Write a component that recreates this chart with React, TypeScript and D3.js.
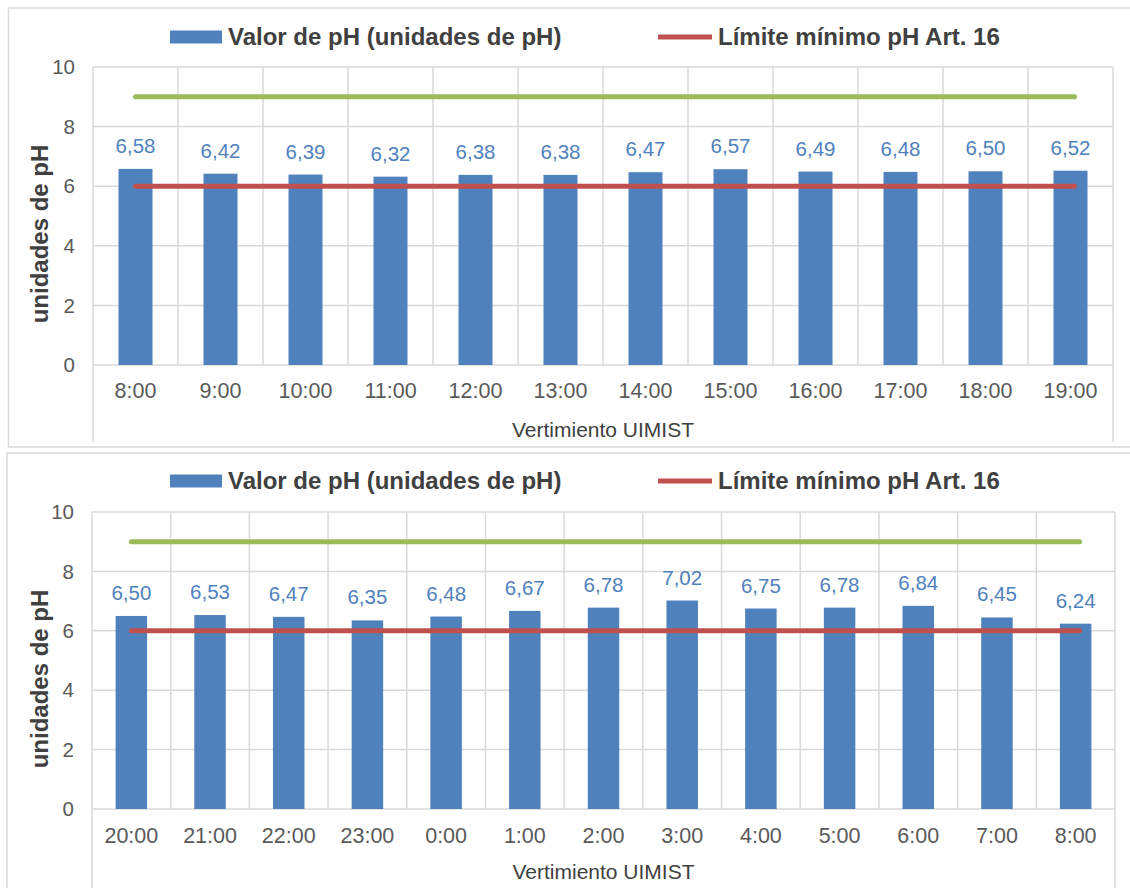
import React, { useEffect, useRef } from 'react';
import * as d3 from 'd3';

// Chart 1 (day shift)
const hours1 = ['8:00', '9:00', '10:00', '11:00', '12:00', '13:00', '14:00', '15:00', '16:00', '17:00', '18:00', '19:00'];
const ph1 = [6.58, 6.42, 6.39, 6.32, 6.38, 6.38, 6.47, 6.57, 6.49, 6.48, 6.5, 6.52];

// Chart 2 (night shift)
const hours2 = ['20:00', '21:00', '22:00', '23:00', '0:00', '1:00', '2:00', '3:00', '4:00', '5:00', '6:00', '7:00', '8:00'];
const ph2 = [6.5, 6.53, 6.47, 6.35, 6.48, 6.67, 6.78, 7.02, 6.75, 6.78, 6.84, 6.45, 6.24];

const yTicks = [0, 2, 4, 6, 8, 10];
const minLimit = 6;
const maxLimit = 9;

const seriesName = 'Valor de pH (unidades de pH)';
const limitName = 'Límite mínimo pH Art. 16';
const yTitle = 'unidades de pH';
const xTitle = 'Vertimiento UIMIST';

const BLUE = '#4f81bd';
const RED = '#c0504d';
const GREEN = '#9bbb59';
const GRID = '#d9d9d9';
const FONT = '"Liberation Sans", Arial, sans-serif';

interface Layout {
  boxTop: number;
  boxBottom: number;
  boxLeft: number;
  left: number;
  right: number;
  top: number;
  zero: number;
  sideBottom: number;
  legendY: number;
  tickY: number;
  titleY: number;
}

const drawChart = (
  g: d3.Selection<SVGGElement, unknown, null, undefined>,
  cats: string[],
  vals: number[],
  L: Layout
) => {
  const fmt = (v: number) => d3.format('.2f')(v).replace('.', ',');

  // outer box
  g.append('rect')
    .attr('x', L.boxLeft)
    .attr('y', L.boxTop)
    .attr('width', 1140 - L.boxLeft)
    .attr('height', L.boxBottom - L.boxTop)
    .attr('fill', '#fff')
    .attr('stroke', GRID)
    .attr('stroke-width', 1.5);

  const x = d3.scaleBand().domain(cats).range([L.left, L.right]).paddingInner(0).paddingOuter(0);
  const y = d3.scaleLinear().domain([0, 10]).range([L.zero, L.top]);

  // horizontal grid
  g.selectAll('.hg')
    .data(yTicks)
    .enter()
    .append('line')
    .attr('x1', L.left)
    .attr('x2', L.right)
    .attr('y1', d => y(d))
    .attr('y2', d => y(d))
    .attr('stroke', GRID)
    .attr('stroke-width', 1.5);

  // vertical grid at category boundaries
  const bounds = d3.range(cats.length + 1).map(i => L.left + i * x.step());
  g.selectAll('.vg')
    .data(bounds)
    .enter()
    .append('line')
    .attr('x1', d => d)
    .attr('x2', d => d)
    .attr('y1', L.top)
    .attr('y2', (d, i) => (i === 0 || i === cats.length ? L.sideBottom : L.zero))
    .attr('stroke', GRID)
    .attr('stroke-width', 1.5);

  // y tick labels
  g.selectAll('.yt')
    .data(yTicks)
    .enter()
    .append('text')
    .attr('x', L.left - 18)
    .attr('y', d => y(d))
    .attr('dy', '0.35em')
    .attr('text-anchor', 'end')
    .attr('fill', '#595959')
    .style('font-size', '20.5px')
    .text(d => d);

  // bars
  const bw = x.bandwidth() * 0.4;
  g.selectAll('.bar')
    .data(vals)
    .enter()
    .append('rect')
    .attr('x', (d, i) => (x(cats[i]) || 0) + x.bandwidth() / 2 - bw / 2)
    .attr('y', d => y(d))
    .attr('width', bw)
    .attr('height', d => L.zero - y(d))
    .attr('fill', BLUE);

  // data labels
  g.selectAll('.lbl')
    .data(vals)
    .enter()
    .append('text')
    .attr('x', (d, i) => (x(cats[i]) || 0) + x.bandwidth() / 2)
    .attr('y', d => y(d) - 16)
    .attr('text-anchor', 'middle')
    .attr('fill', BLUE)
    .style('font-size', '20.5px')
    .text(d => fmt(d));

  // limit lines
  const cx0 = (x(cats[0]) || 0) + x.bandwidth() / 2;
  const cx1 = (x(cats[cats.length - 1]) || 0) + x.bandwidth() / 2 + 4;
  [
    { v: maxLimit, c: GREEN },
    { v: minLimit, c: RED }
  ].forEach(l => {
    g.append('line')
      .attr('x1', cx0)
      .attr('x2', cx1)
      .attr('y1', y(l.v))
      .attr('y2', y(l.v))
      .attr('stroke', l.c)
      .attr('stroke-width', 5)
      .attr('stroke-linecap', 'round');
  });

  // x tick labels
  g.selectAll('.xt')
    .data(cats)
    .enter()
    .append('text')
    .attr('x', d => (x(d) || 0) + x.bandwidth() / 2)
    .attr('y', L.tickY)
    .attr('dy', '0.35em')
    .attr('text-anchor', 'middle')
    .attr('fill', '#595959')
    .style('font-size', '21.5px')
    .text(d => d);

  // axis titles
  g.append('text')
    .attr('x', (L.left + L.right) / 2)
    .attr('y', L.titleY)
    .attr('dy', '0.35em')
    .attr('text-anchor', 'middle')
    .attr('fill', '#404040')
    .style('font-size', '21px')
    .text(xTitle);

  g.append('text')
    .attr('transform', `translate(40,${L.top + 167}) rotate(-90)`)
    .attr('dy', '0.35em')
    .attr('text-anchor', 'middle')
    .attr('fill', '#404040')
    .style('font-size', '24px')
    .style('font-weight', 'bold')
    .text(yTitle);

  // legend
  g.append('rect')
    .attr('x', 170)
    .attr('y', L.legendY - 6.5)
    .attr('width', 52)
    .attr('height', 13)
    .attr('fill', BLUE);
  g.append('text')
    .attr('x', 228)
    .attr('y', L.legendY)
    .attr('dy', '0.35em')
    .attr('fill', '#404040')
    .style('font-size', '24px')
    .style('font-weight', 'bold')
    .text(seriesName);
  g.append('line')
    .attr('x1', 658)
    .attr('x2', 712)
    .attr('y1', L.legendY)
    .attr('y2', L.legendY)
    .attr('stroke', RED)
    .attr('stroke-width', 5);
  g.append('text')
    .attr('x', 718)
    .attr('y', L.legendY)
    .attr('dy', '0.35em')
    .attr('fill', '#404040')
    .style('font-size', '24px')
    .style('font-weight', 'bold')
    .text(limitName);
};

const App: React.FC = () => {
  const svgRef = useRef<SVGSVGElement>(null);

  useEffect(() => {
    if (!svgRef.current) return;
    const svg = d3.select(svgRef.current);
    svg.selectAll('*').remove();
    svg.style('font-family', FONT);

    drawChart(svg.append('g'), hours1, ph1, {
      boxTop: 8, boxBottom: 447, boxLeft: 8.5,
      left: 93, right: 1113, top: 67, zero: 365, sideBottom: 442,
      legendY: 37, tickY: 390, titleY: 430
    });
    drawChart(svg.append('g'), hours2, ph2, {
      boxTop: 453, boxBottom: 900, boxLeft: 7,
      left: 92, right: 1115, top: 512, zero: 809, sideBottom: 900,
      legendY: 481, tickY: 835, titleY: 872
    });
  }, []);

  return (
    <div style={{ position: 'absolute', left: 0, top: 0, width: 1130, height: 888, background: '#fff', overflow: 'hidden' }}>
      <svg ref={svgRef} width={1130} height={888} style={{ display: 'block' }} />
    </div>
  );
};

export default App;
